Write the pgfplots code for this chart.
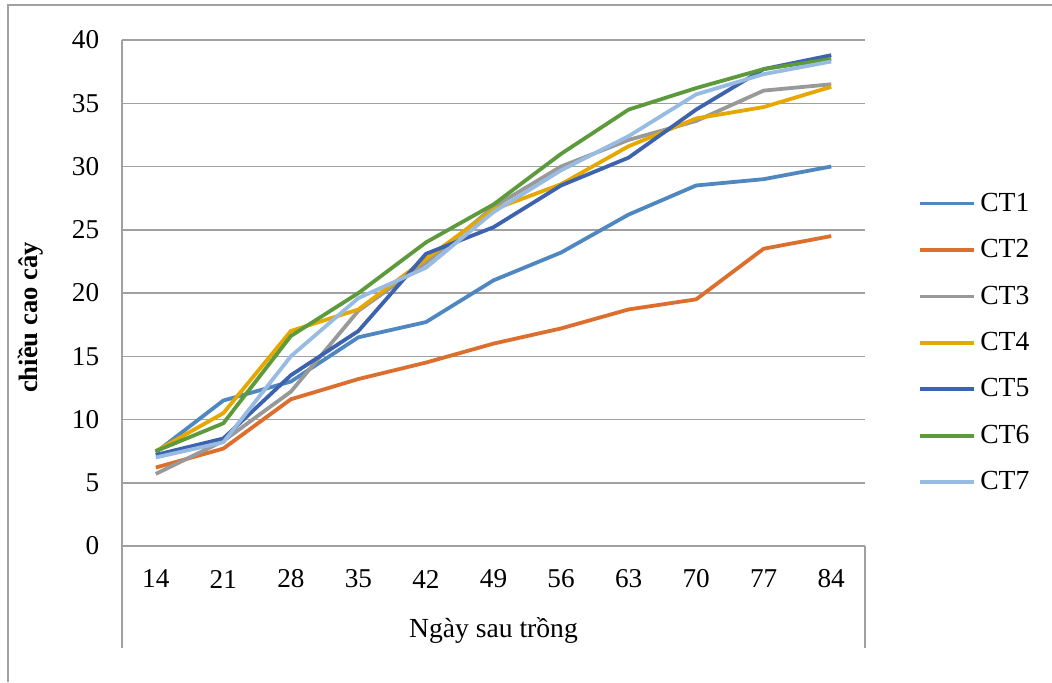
\documentclass[border=0pt]{standalone}
\usepackage{fontspec}
\setmainfont{Liberation Serif}
\usepackage{pgfplots}
\pgfplotsset{compat=1.18}
\definecolor{cA}{HTML}{4F87C0}
\definecolor{cB}{HTML}{DD6F2E}
\definecolor{cC}{HTML}{999999}
\definecolor{cD}{HTML}{E6A800}
\definecolor{cE}{HTML}{3D63AE}
\definecolor{cF}{HTML}{5C9A3C}
\definecolor{cG}{HTML}{98BBE2}
\definecolor{gridc}{HTML}{A0A0A0}
\begin{document}
\begin{tikzpicture}
\path[use as bounding box] (0pt,0pt) rectangle (526pt,341pt);
\draw[gridc, line width=0.6pt] (4pt,0pt) -- (4pt,338.5pt) -- (526pt,338.5pt);
\begin{axis}[
  at={(61pt,68pt)}, anchor=south west,
  scale only axis, width=371.5pt, height=253pt,
  xmin=-0.5, xmax=10.5, ymin=0, ymax=40,
  xtick={0,...,10},
  xticklabels={14,21,28,35,42,49,56,63,70,77,84},
  ytick={0,5,...,40},
  major tick length=0pt,
  axis line style={draw=none},
  ymajorgrids, grid style={gridc, line width=0.75pt},
  /pgf/number format/assume math mode=true,
  tick label style={font=\fontsize{13.6}{16}\selectfont},
  xticklabel style={anchor=center, yshift=-16.5pt},
  yticklabel style={anchor=east, xshift=-7.9pt},
  xlabel={Ngày sau trồng},
  xlabel style={at={(axis description cs:0.5,-0.166)}, anchor=center, font=\fontsize{13.8}{16}\selectfont},
  ylabel={chiều cao cây},
  ylabel style={at={(axis description cs:-0.1225,0.4516)}, anchor=center, font=\bfseries\fontsize{13.3}{16}\selectfont},
  clip=false,
  legend style={draw=none, fill=none, at={(axis description cs:1.0714,0.7067)}, anchor=north west, inner sep=0pt, row sep=8.6pt, font=\fontsize{13.8}{16}\selectfont, cells={anchor=west}},
  legend image code/.code={\draw[#1] (0pt,0pt) -- (27pt,0pt);},
  every axis plot/.append style={line width=1.9pt, line join=round},
]
\addplot[cA] coordinates {(0,7.4) (1,11.5) (2,13.0) (3,16.5) (4,17.7) (5,21.0) (6,23.2) (7,26.2) (8,28.5) (9,29.0) (10,30.0)};
\addplot[cB] coordinates {(0,6.2) (1,7.7) (2,11.6) (3,13.2) (4,14.5) (5,16.0) (6,17.2) (7,18.7) (8,19.5) (9,23.5) (10,24.5)};
\addplot[cC] coordinates {(0,5.7) (1,8.3) (2,12.2) (3,18.6) (4,22.4) (5,26.8) (6,30.0) (7,32.1) (8,33.6) (9,36.0) (10,36.5)};
\addplot[cD] coordinates {(0,7.5) (1,10.5) (2,17.0) (3,18.7) (4,22.7) (5,26.6) (6,28.6) (7,31.6) (8,33.8) (9,34.7) (10,36.3)};
\addplot[cE] coordinates {(0,7.2) (1,8.5) (2,13.5) (3,17.0) (4,23.1) (5,25.2) (6,28.5) (7,30.7) (8,34.5) (9,37.7) (10,38.8)};
\addplot[cF] coordinates {(0,7.5) (1,9.7) (2,16.6) (3,20.0) (4,24.0) (5,27.0) (6,31.0) (7,34.5) (8,36.2) (9,37.7) (10,38.5)};
\addplot[cG] coordinates {(0,7.0) (1,8.2) (2,15.0) (3,19.6) (4,22.0) (5,26.4) (6,29.7) (7,32.4) (8,35.7) (9,37.3) (10,38.3)};
\legend{CT1,CT2,CT3,CT4,CT5,CT6,CT7}
\draw[gridc, line width=0.75pt] (rel axis cs:0,1) -- (rel axis cs:0,-0.2016);
\draw[gridc, line width=0.75pt] (rel axis cs:1,0) -- (rel axis cs:1,-0.2016);
\end{axis}
\end{tikzpicture}
\end{document}
